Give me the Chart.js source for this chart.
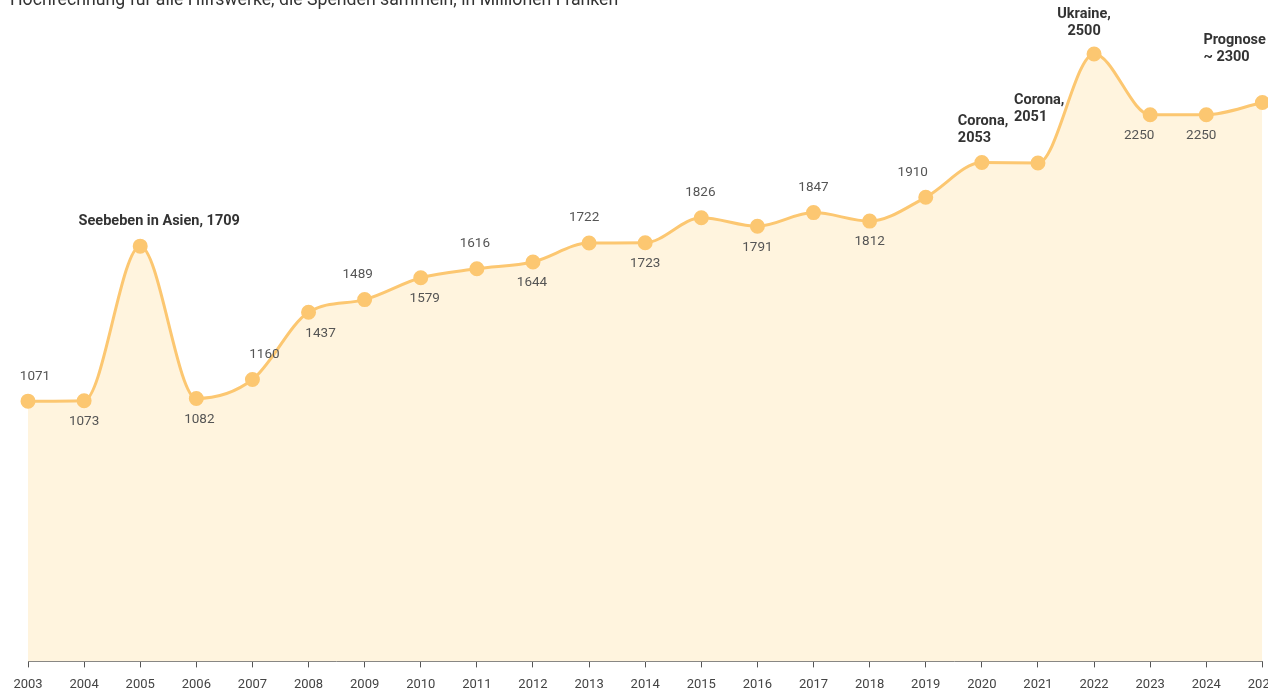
<!DOCTYPE html>
<html>
<head>
<meta charset="utf-8">
<script src="https://cdn.jsdelivr.net/npm/chart.js@4"></script>
<style>
  html, body { margin: 0; padding: 0; background: #fff; overflow: hidden; }
  #wrap { position: relative; width: 1287px; height: 703px; }
  #title {
    position: absolute; left: 10px; top: -11px;
    font: 17.7px Roboto, sans-serif; color: #333; white-space: nowrap;
  }
  #chart-box { position: absolute; left: 0; top: 0; width: 1287px; height: 703px; }
</style>
</head>
<body>
<div id="wrap">
  <div id="chart-box"><canvas id="donations"></canvas></div>
  <div id="title">Hochrechnung für alle Hilfswerke, die Spenden sammeln, in Millionen Franken</div>
</div>
<script>
// Spendenvolumen Schweiz, Mio. Franken (2025 = Prognose)
const years = ['2003', '2004', '2005', '2006', '2007', '2008', '2009', '2010', '2011', '2012', '2013',
  '2014', '2015', '2016', '2017', '2018', '2019', '2020', '2021', '2022', '2023', '2024', '2025'];
const donations = [1071, 1073, 1709, 1082, 1160, 1437, 1489, 1579, 1616, 1644, 1722,
  1723, 1826, 1791, 1847, 1812, 1910, 2053, 2051, 2500, 2250, 2250, 2300];
// annotation text per point ('' = plain value)
const notes = ['', '', 'Seebeben in Asien, 1709', '', '', '', '', '', '', '', '',
  '', '', '', '', '', '', 'Corona,\n2053', 'Corona,\n2051', 'Ukraine,\n2500', '', '', 'Prognose\n~ 2300'];

// label placement: 'a' above, 'b' below; dx shifts, align for multi-line notes
const labelPos = ['a', 'b', 'a', 'b', 'a', 'b', 'a', 'b', 'a', 'b', 'a',
  'b', 'a', 'b', 'a', 'b', 'a', 'a', 'a', 'a', 'b', 'b', 'a'];
const labelDx = [7, 0, 19, 3, 12, 12, -7, 4, -2, -1, -5, 0, -1, 0, 0, 0, -13, -24, -24, -10, -11, -5, -59];
const labelAlign = {17: 'left', 18: 'left', 22: 'left'};
const labelDy = {17: -24, 18: -46, 19: -23, 22: -45};

const LINE = '#fcc771';
const FILL = '#fff4de';

const pointLabels = {
  id: 'pointLabels',
  afterDatasetsDraw(chart) {
    const ctx = chart.ctx;
    const meta = chart.getDatasetMeta(0);
    ctx.save();
    meta.data.forEach((pt, i) => {
      const note = notes[i];
      const lines = note ? note.split('\n') : [String(donations[i])];
      const bold = !!note;
      ctx.font = bold ? 'bold 14.5px Roboto, sans-serif' : '13.5px Roboto, sans-serif';
      ctx.fillStyle = bold ? '#333' : '#555';
      ctx.textAlign = labelAlign[i] || 'center';
      ctx.textBaseline = 'middle';
      const lh = 17;
      let y0;
      if (labelDy[i] !== undefined) y0 = pt.y + labelDy[i] - (lines.length - 1) * lh;
      else if (labelPos[i] === 'a') y0 = pt.y - 25 - (lines.length - 1) * lh;
      else y0 = pt.y + 21;
      lines.forEach((ln, k) => ctx.fillText(ln, pt.x + labelDx[i], y0 + k * lh));
    });
    ctx.restore();
  }
};

new Chart(document.getElementById('donations'), {
  type: 'line',
  data: {
    labels: years,
    datasets: [{
      data: donations,
      borderColor: LINE,
      borderWidth: 3,
      backgroundColor: FILL,
      fill: 'origin',
      pointBackgroundColor: LINE,
      pointBorderColor: LINE,
      pointRadius: 6,
      pointHoverRadius: 6,
      cubicInterpolationMode: 'monotone'
    }]
  },
  options: {
    responsive: true,
    maintainAspectRatio: false,
    animation: false,
    layout: { padding: { left: 28, right: 4, top: 0, bottom: 0 } },
    plugins: { legend: { display: false }, tooltip: { enabled: false } },
    scales: {
      x: {
        offset: false,
        grid: { display: true, drawOnChartArea: false, tickLength: 6, color: '#555' },
        border: { display: true, color: '#777', width: 1 },
        ticks: { color: '#444', font: { size: 13, family: 'Roboto, sans-serif' }, padding: 10, maxRotation: 0, autoSkip: false }
      },
      y: { display: false, min: 0, max: 2685 }
    }
  },
  plugins: [pointLabels]
});
</script>
</body>
</html>
